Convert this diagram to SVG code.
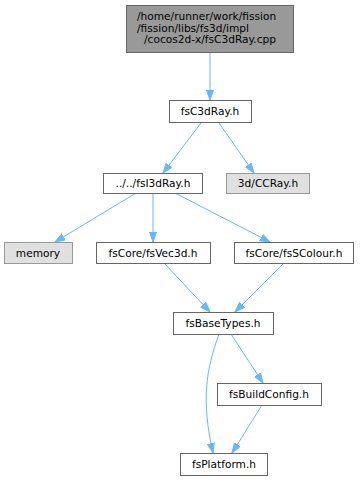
<svg xmlns="http://www.w3.org/2000/svg" width="363" height="481" viewBox="0 0 363 481">
<style>
.n rect{fill:#ffffff;stroke:#666666;stroke-width:1}
.g rect{fill:#e0e0e0;stroke:#999999;stroke-width:1}
.top rect{fill:#999999;stroke:#666666;stroke-width:1}
text{font-family:"DejaVu Sans",sans-serif;font-size:10.6px;fill:#000000;text-anchor:middle}
text.s{text-anchor:start}
.e path{fill:none;stroke:#63b8ff;stroke-width:1;marker-end:url(#a)}
</style>
<defs>
<marker id="a" markerUnits="userSpaceOnUse" markerWidth="12" markerHeight="10" refX="10" refY="4" orient="auto" viewBox="0 0 12 10">
<path d="M0,0.5 L10,4 L0,7.5 Z" fill="#63b8ff" stroke="#63b8ff" stroke-width="1"/>
</marker>
</defs>
<g class="e" id="edges">
<path d="M210,52 L210,100"/>
<path d="M201,123 L163,173"/>
<path d="M219,123 L254,173"/>
<path d="M136,193 L55,242"/>
<path d="M153,193 L153,242"/>
<path d="M175,193 L270,242"/>
<path d="M164,263 L210,312"/>
<path d="M284,263 L235,312"/>
<path d="M219,334 C206,370 201,400 213,453"/>
<path d="M231,334 L263,383"/>
<path d="M262,405 L232,453"/>
</g>
<g id="n_cpp" class="top"><rect x="126.5" y="5.5" width="167" height="47"/>
<text class="s" x="137" y="20">/home/runner/work/fission</text>
<text class="s" x="137" y="31.5">/fission/libs/fs3d/impl</text>
<text x="210" y="43">/cocos2d-x/fsC3dRay.cpp</text></g>
<g id="n_c3d" class="n"><rect x="169.5" y="100.5" width="82" height="22"/><text x="210" y="115">fsC3dRay.h</text></g>
<g id="n_i3d" class="n"><rect x="103.5" y="173.5" width="99" height="20"/><text x="153" y="187">../../fsI3dRay.h</text></g>
<g id="n_ccray" class="g"><rect x="226.5" y="173.5" width="83" height="20"/><text x="268" y="187">3d/CCRay.h</text></g>
<g id="n_memory" class="g"><rect x="4.5" y="242.5" width="68" height="21"/><text x="38" y="257">memory</text></g>
<g id="n_vec3d" class="n"><rect x="96.5" y="242.5" width="114" height="21"/><text x="153" y="257">fsCore/fsVec3d.h</text></g>
<g id="n_scolour" class="n"><rect x="234.5" y="242.5" width="119" height="21"/><text x="294" y="257">fsCore/fsSColour.h</text></g>
<g id="n_base" class="n"><rect x="173.5" y="312.5" width="100" height="22"/><text x="223" y="327">fsBaseTypes.h</text></g>
<g id="n_build" class="n"><rect x="217.5" y="383.5" width="104" height="22"/><text x="269" y="398">fsBuildConfig.h</text></g>
<g id="n_platform" class="n"><rect x="180.5" y="453.5" width="87" height="22"/><text x="224" y="468">fsPlatform.h</text></g>
</svg>
